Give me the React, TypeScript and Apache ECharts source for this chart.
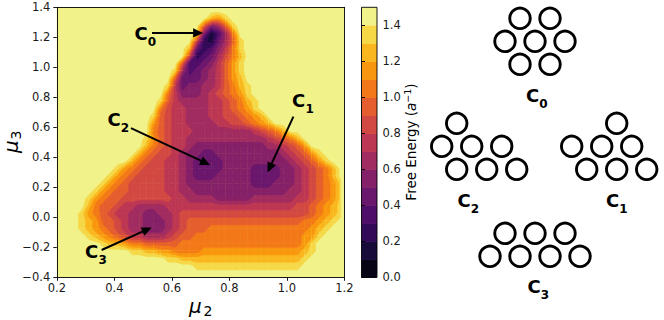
import React, { useEffect, useRef } from 'react';
import * as echarts from 'echarts';

const FONT = 'DejaVu Sans';
const INK = '#000000';

// ---------------- data ----------------
// Free-energy landscape F(mu2, mu3).
// One string per mu3 row, from mu3 = 1.375 (top) down to -0.375, step 0.05.
// One hex digit per mu2 column, mu2 = 0.2125 ... 1.1875, step 0.025 (spaces only group columns by ten).
// Digit d: free energy in [d/10, (d+1)/10) a^-1 ; E: 1.4 and above.
const freeEnergyRows: string[] = [
  'EEEEEEEEEE EEEEEEEEEE EEEEEEEEEE EEEEEEEEEE', // 1.375
  'EEEEEEEEEE EEEEEEEEEE ECBDEEEEEE EEEEEEEEEE', // 1.325
  'EEEEEEEEEE EEEEEEEEEE 9569DEEEEE EEEEEEEEEE', // 1.275
  'EEEEEEEEEE EEEEEEEEED 5136AEEEEE EEEEEEEEEE', // 1.225
  'EEEEEEEEEE EEEEEEEEE8 21469DEEEE EEEEEEEEEE', // 1.175
  'EEEEEEEEEE EEEEEEEEC4 2357ADEEEE EEEEEEEEEE', // 1.125
  'EEEEEEEEEE EEEEEEEE82 3468ACEEEE EEEEEEEEEE', // 1.075
  'EEEEEEEEEE EEEEEEE933 4579BDEEEE EEEEEEEEEE', // 1.025
  'EEEEEEEEEE EEEEEED634 5679BDEEEE EEEEEEEEEE', // 0.975
  'EEEEEEEEEE EEEEEE9444 5679BCEEEE EEEEEEEEEE', // 0.925
  'EEEEEEEEEE EEEEED7455 6679ACDEEE EEEEEEEEEE', // 0.875
  'EEEEEEEEEE EEEEEA7555 6789ABDEEE EEEEEEEEEE', // 0.825
  'EEEEEEEEEE EEEED97666 67789ACDEE EEEEEEEEEE', // 0.775
  'EEEEEEEEEE EEEEA87766 67789ABDEE EEEEEEEEEE', // 0.725
  'EEEEEEEEEE EEED987766 677889ABCE EEEEEEEEEE', // 0.675
  'EEEEEEEEEE EEEB987766 6677889ABC EEEEEEEEEE', // 0.625
  'EEEEEEEEEE EEEA987776 6666666789 ACEEEEEEEE', // 0.575
  'EEEEEEEEEE EEDB987766 6666666667 89ACEEEEEE', // 0.525
  'EEEEEEEEEE EECA987765 5555555556 6789BEEEEE', // 0.475
  'EEEEEEEEEE ECA9887655 4455555555 56789BDEEE', // 0.425
  'EEEEEEEEEE CA98877654 4445555555 556789BDEE', // 0.375
  'EEEEEEEEDB A988877654 4445555444 4556789ACE', // 0.325
  'EEEEEEEDBA 9888877654 4455555444 4556789ACE', // 0.275
  'EEEEEEDBA9 8888877655 5555555444 5556789ABD', // 0.225
  'EEEEEDBA99 8888877665 5555555555 5566789ABD', // 0.175
  'EEEEDBA998 8888887766 6655555666 6667789ABD', // 0.125
  'EEEECA9987 7666677777 7777777777 777889ABCD', // 0.075
  'EEEDBA9877 6655667888 8888888888 888889ABCD', // 0.025
  'EEEDCB9987 6655567899 9999999999 9999AABCDE', // -0.025
  'EEEDCBA987 6655567899 9AAAAAAAAA AAAAABCDEE', // -0.075
  'EEEEDCBA98 776667899A AAAAAAAAAA AAAABBDEEE', // -0.125
  'EEEEEEDCCB AA99999AAA AAAAAAAAAA AAAABDEEEE', // -0.175
  'EEEEEEEEEE DDCCBBAAAA BBBBBBBBBB BBBBCDEEEE', // -0.225
  'EEEEEEEEEE EEEEEDDCCC CCCCCCCCCC CCCCDEEEEE', // -0.275
  'EEEEEEEEEE EEEEEEEEED DDDDDDDDDD DDDDEEEEEE', // -0.325
  'EEEEEEEEEE EEEEEEEEEE EEEEEEEEEE EEEEEEEEEE', // -0.375
];
const firstMu2 = 0.2125;
const cellMu2 = 0.025;
const topMu3 = 1.375;
const cellMu3 = 0.05;

const mu2Ticks = [0.2, 0.4, 0.6, 0.8, 1.0, 1.2];
const mu3Ticks = [-0.4, -0.2, 0.0, 0.2, 0.4, 0.6, 0.8, 1.0, 1.2, 1.4];
const colorbarTicks = [0.0, 0.2, 0.4, 0.6, 0.8, 1.0, 1.2, 1.4];

// contour levels (a^-1) and the inferno colour of each band
const levels = [0.0, 0.1, 0.2, 0.3, 0.4, 0.5, 0.6, 0.7, 0.8, 0.9, 1.0, 1.1, 1.2, 1.3, 1.4, 1.5];
const levelColors = [
  '#070416', '#160b39', '#330a58', '#4f0e6a', '#6a176e', '#852169', '#a12c61', '#bc3754',
  '#d24843', '#e45e2f', '#f37819', '#f9960f', '#fab61e', '#f6d746', '#f1f38a',
];

// basin annotations (data coordinates)
const basinNames = ['0', '1', '2', '3'];
const basinLabelAt = [[0.493, 1.225], [1.041, 0.782], [0.399, 0.649], [0.321, -0.228]];
const arrowFrom = [[0.531, 1.229], [1.023, 0.671], [0.458, 0.595], [0.356, -0.218]];
const arrowTo = [[0.709, 1.229], [0.933, 0.299], [0.733, 0.349], [0.530, -0.068]];

// cluster sketches: occupied lattice sites [column in half-spacings, row]
const c0Sites = [[1, 0], [3, 0], [0, 1], [2, 1], [4, 1], [1, 2], [3, 2]];
const c1Sites = [[3, 0], [0, 1], [2, 1], [4, 1], [1, 2], [3, 2], [5, 2]];
const c2Sites = [[1, 0], [0, 1], [2, 1], [4, 1], [1, 2], [3, 2], [5, 2]];
const c3Sites = [[1, 0], [3, 0], [5, 0], [0, 1], [2, 1], [4, 1], [6, 1]];

// ---------------- layout (pixels) ----------------
const SITE_DX = 15;
const SITE_DY = 23;
const sketchOrigins = [[505, 18.3], [571.7, 123.3], [441.7, 123.3], [490, 233.3]];
const sketchLabelAt = [[532.5, 95], [612.5, 200], [464, 200], [534, 286.5]];

function fmt(v: number) {
  const s = Math.abs(v).toFixed(1);
  return v < -1e-9 ? '\u2212' + s : s;
}

function bandOf(f: number) {
  return Math.max(0, Math.min(levelColors.length - 1, Math.floor(f * 10 + 1e-9)));
}

function buildOption() {
  // grid of F values
  const F: number[][] = freeEnergyRows.map((row) =>
    row.replace(/\s/g, '').split('').map((ch) => (parseInt(ch, 16) + 0.5) / 10),
  );
  // squares between four neighbouring grid nodes -> filled contours (marching squares)
  const squares: number[][] = [];
  for (let r = 0; r < F.length - 1; r++) {
    for (let c = 0; c < F[r].length - 1; c++) {
      const v = [F[r][c], F[r][c + 1], F[r + 1][c + 1], F[r + 1][c]];
      if (Math.min(...v) >= 1.4) continue;
      squares.push([firstMu2 + c * cellMu2, topMu3 - r * cellMu3, v[0], v[1], v[2], v[3]]);
    }
  }

  const cbBands = levelColors.map((_, i) => [levels[i], levels[i + 1], i]);
  const arrows = arrowFrom.map((f, i) => [f[0], f[1], arrowTo[i][0], arrowTo[i][1]]);

  const allSites = [c0Sites, c1Sites, c2Sites, c3Sites];
  const circles: number[][] = [];
  allSites.forEach((sites, k) => {
    sites.forEach(([col, row]) => {
      circles.push([sketchOrigins[k][0] + col * SITE_DX, sketchOrigins[k][1] + row * SITE_DY]);
    });
  });

  const axisLine = { show: true, onZero: false, lineStyle: { color: INK, width: 0.9 } };
  const tick = { show: true, inside: false, length: 3.5, lineStyle: { color: INK, width: 0.9 } };
  const tickLabel = { fontFamily: FONT, fontSize: 11.5, color: '#1a1a1a' };

  const labelText = (x: number, y: number, sub: string) => ({
    type: 'group',
    children: [
      {
        type: 'text', x, y,
        style: { text: 'C', fontFamily: FONT, fontSize: 18, fontWeight: 'bold', fill: INK, align: 'center', verticalAlign: 'middle' },
      },
      {
        type: 'text', x: x + 6.8, y: y + 8.5,
        style: { text: sub, fontFamily: FONT, fontSize: 12, fontWeight: 'bold', fill: INK, align: 'left', verticalAlign: 'middle' },
      },
    ],
  });

  const poly = (points: number[][], band: number) => ({
    type: 'polygon',
    shape: { points },
    style: { fill: levelColors[band], stroke: levelColors[band], lineWidth: 0.5 },
  });

  return {
    animation: false,
    backgroundColor: '#ffffff',
    grid: [
      { left: 56.8, top: 7.3, width: 287.5, height: 270, show: true, backgroundColor: levelColors[14], borderWidth: 0 },
      { left: 361.5, top: 7.3, width: 15.5, height: 270 },
      { left: 0, top: 0, width: 664, height: 320 },
    ],
    xAxis: [
      {
        gridIndex: 0, type: 'value', min: mu2Ticks[0], max: mu2Ticks[mu2Ticks.length - 1], interval: 0.2, z: 10,
        axisLine, axisTick: tick, splitLine: { show: false },
        axisLabel: { ...tickLabel, margin: 5, formatter: (v: number) => fmt(v) },
      },
      {
        gridIndex: 0, type: 'value', position: 'top', min: 0.2, max: 1.2, z: 10,
        axisLine, axisTick: { show: false }, axisLabel: { show: false }, splitLine: { show: false },
      },
      { gridIndex: 1, type: 'value', min: 0, max: 1, show: false },
      { gridIndex: 2, type: 'value', min: 0, max: 664, show: false },
    ],
    yAxis: [
      {
        gridIndex: 0, type: 'value', min: mu3Ticks[0], max: mu3Ticks[mu3Ticks.length - 1], interval: 0.2, z: 10,
        axisLine, axisTick: tick, splitLine: { show: false },
        axisLabel: { ...tickLabel, margin: 6.5, formatter: (v: number) => fmt(v) },
      },
      {
        gridIndex: 0, type: 'value', position: 'right', min: -0.4, max: 1.4, z: 10,
        axisLine, axisTick: { show: false }, axisLabel: { show: false }, splitLine: { show: false },
      },
      {
        gridIndex: 1, type: 'value', position: 'right', min: levels[0], max: levels[levels.length - 1], interval: 0.2, z: 10,
        axisLine: { show: false }, splitLine: { show: false },
        axisTick: { ...tick, customValues: colorbarTicks },
        axisLabel: {
          ...tickLabel, margin: 5.5, customValues: colorbarTicks,
          formatter: (v: number) => (v > 1.45 ? '' : fmt(v)),
        },
      },
      { gridIndex: 2, type: 'value', min: 0, max: 320, inverse: true, show: false },
    ],
    series: [
      {
        type: 'custom', name: 'free energy', xAxisIndex: 0, yAxisIndex: 0, clip: true, silent: true, z: 1,
        encode: { x: 0, y: 1 },
        data: squares,
        renderItem: (params: any, api: any) => {
          const x0 = api.value(0), y0 = api.value(1);
          const vals = [api.value(2), api.value(3), api.value(4), api.value(5)];
          const pts = [
            api.coord([x0, y0]),
            api.coord([x0 + cellMu2, y0]),
            api.coord([x0 + cellMu2, y0 - cellMu3]),
            api.coord([x0, y0 - cellMu3]),
          ];
          const bands = vals.map(bandOf);
          const maxB = Math.max(...bands), minB = Math.min(...bands);
          const children: any[] = [poly(pts, maxB)];
          for (let t = maxB; t > minB; t--) {
            const thr = t / 10;
            const out: number[][] = [];
            for (let i = 0; i < 4; i++) {
              const j = (i + 1) % 4;
              const ia = vals[i] < thr, ib = vals[j] < thr;
              if (ia) out.push(pts[i]);
              if (ia !== ib) {
                const k = (thr - vals[i]) / (vals[j] - vals[i]);
                out.push([pts[i][0] + (pts[j][0] - pts[i][0]) * k, pts[i][1] + (pts[j][1] - pts[i][1]) * k]);
              }
            }
            if (out.length >= 3) children.push(poly(out, t - 1));
          }
          return { type: 'group', children };
        },
      },
      {
        type: 'custom', name: 'arrows', xAxisIndex: 0, yAxisIndex: 0, silent: true, z: 5,
        encode: { x: [0, 2], y: [1, 3] },
        data: arrows,
        renderItem: (params: any, api: any) => {
          const s = api.coord([api.value(0), api.value(1)]);
          const t = api.coord([api.value(2), api.value(3)]);
          const dx = t[0] - s[0], dy = t[1] - s[1];
          const len = Math.hypot(dx, dy) || 1;
          const ux = dx / len, uy = dy / len;
          const headLen = 10, headHalf = 4.6;
          const b = [t[0] - ux * headLen, t[1] - uy * headLen];
          return {
            type: 'group',
            children: [
              { type: 'line', shape: { x1: s[0], y1: s[1], x2: b[0] + ux, y2: b[1] + uy }, style: { stroke: INK, lineWidth: 2 } },
              {
                type: 'polygon',
                shape: { points: [[t[0], t[1]], [b[0] - uy * headHalf, b[1] + ux * headHalf], [b[0] + uy * headHalf, b[1] - ux * headHalf]] },
                style: { fill: INK },
              },
            ],
          };
        },
      },
      {
        type: 'custom', name: 'basin labels', xAxisIndex: 0, yAxisIndex: 0, silent: true, z: 6,
        data: basinLabelAt,
        renderItem: (params: any, api: any) => {
          const p = api.coord([api.value(0), api.value(1)]);
          return labelText(p[0], p[1], basinNames[params.dataIndex]);
        },
      },
      {
        type: 'custom', name: 'colorbar', xAxisIndex: 2, yAxisIndex: 2, silent: true, z: 2,
        data: cbBands,
        renderItem: (params: any, api: any) => {
          const lo = api.value(0), hi = api.value(1);
          const p0 = api.coord([0, hi]);
          const p1 = api.coord([1, lo]);
          const last = params.dataIndex === cbBands.length - 1;
          return {
            type: 'rect',
            shape: { x: p0[0], y: p0[1], width: p1[0] - p0[0], height: p1[1] - p0[1] + (last ? 0 : 0.6) },
            style: { fill: levelColors[api.value(2)] },
          };
        },
      },
      {
        type: 'custom', name: 'colorbar outline', xAxisIndex: 2, yAxisIndex: 2, silent: true, z: 3,
        data: [[0, levels[0], 1, levels[levels.length - 1]]],
        renderItem: (params: any, api: any) => {
          const p0 = api.coord([api.value(0), api.value(3)]);
          const p1 = api.coord([api.value(2), api.value(1)]);
          return {
            type: 'rect',
            shape: { x: p0[0], y: p0[1], width: p1[0] - p0[0], height: p1[1] - p0[1] },
            style: { fill: 'none', stroke: INK, lineWidth: 0.9 },
          };
        },
      },
      {
        type: 'scatter', name: 'cluster sketches', xAxisIndex: 3, yAxisIndex: 3, silent: true,
        symbol: 'circle', symbolSize: 20.5,
        itemStyle: { color: '#ffffff', borderColor: INK, borderWidth: 2.9, opacity: 1 },
        data: circles,
      },
      {
        type: 'custom', name: 'cluster labels', xAxisIndex: 3, yAxisIndex: 3, silent: true, z: 6,
        data: sketchLabelAt,
        renderItem: (params: any, api: any) => {
          const p = api.coord([api.value(0), api.value(1)]);
          return labelText(p[0], p[1], basinNames[params.dataIndex]);
        },
      },
    ],
    graphic: [
      {
        type: 'text', x: 189, y: 305.5, z: 20,
        style: { text: 'μ', fontFamily: FONT, fontSize: 20, fontStyle: 'italic', fill: INK, align: 'left', verticalAlign: 'middle' },
      },
      {
        type: 'text', x: 203.5, y: 310.5, z: 20,
        style: { text: '2', fontFamily: FONT, fontSize: 14, fill: INK, align: 'left', verticalAlign: 'middle' },
      },
      {
        type: 'text', x: 11, y: 153, rotation: Math.PI / 2, z: 20,
        style: { text: 'μ', fontFamily: FONT, fontSize: 20, fontStyle: 'italic', fill: INK, align: 'left', verticalAlign: 'middle' },
      },
      {
        type: 'text', x: 16, y: 139.5, rotation: Math.PI / 2, z: 20,
        style: { text: '3', fontFamily: FONT, fontSize: 14, fill: INK, align: 'left', verticalAlign: 'middle' },
      },
      {
        type: 'text', x: 411, y: 142, rotation: Math.PI / 2, z: 20,
        style: {
          text: '{n|Free Energy (}{i|a}{p|\u22121}{n|)}',
          align: 'center', verticalAlign: 'middle',
          rich: {
            n: { fontFamily: FONT, fontSize: 13.5, fill: INK, lineHeight: 18 },
            i: { fontFamily: FONT, fontSize: 13.5, fontStyle: 'italic', fill: INK, lineHeight: 18 },
            p: { fontFamily: FONT, fontSize: 9.5, fill: INK, lineHeight: 11, verticalAlign: 'top' },
          },
        },
      },
    ],
  };
}

export default function App() {
  const ref = useRef<HTMLDivElement>(null);
  useEffect(() => {
    if (!ref.current) return;
    const chart = echarts.init(ref.current, undefined, { renderer: 'svg', width: 664, height: 320 });
    chart.setOption(buildOption() as any);
    return () => chart.dispose();
  }, []);
  return (
    <div
      ref={ref}
      style={{ position: 'fixed', left: 0, top: 0, width: 664, height: 320, background: '#ffffff' }}
    />
  );
}
